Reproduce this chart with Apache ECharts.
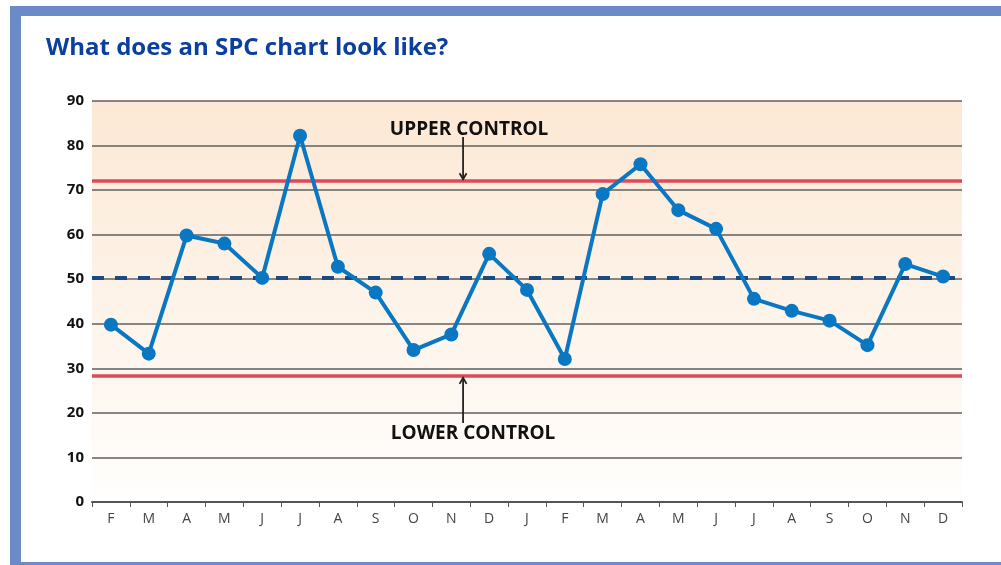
<!DOCTYPE html>
<html><head><meta charset="utf-8">
<script src="https://cdn.jsdelivr.net/npm/echarts@6/dist/echarts.min.js"></script>
<style>html,body{margin:0;padding:0;background:#fff}#c{width:1001px;height:565px}</style>
</head><body><div id="c"></div>
<script>
const titleText = 'What does an SPC chart look like?';
const months = ['F','M','A','M','J','J','A','S','O','N','D','J','F','M','A','M','J','J','A','S','O','N','D'];
const values = [39.8,33.3,59.8,58.0,50.3,82.2,52.8,47.0,34.1,37.6,55.7,47.6,32.1,69.1,75.8,65.5,61.3,45.6,42.9,40.7,35.2,53.4,50.6];
const upperControl = 72;
const lowerControl = 28.3;
const meanValue = 50.3;
const yTicks = [0,10,20,30,40,50,60,70,80,90];
const annotations = ['UPPER CONTROL','LOWER CONTROL'];

const chart = echarts.init(document.getElementById('c'), null, {renderer:'canvas'});
const FONT = '"Open Sans", "Noto Sans", sans-serif';
const option = {
  animation:false,
  backgroundColor:'#ffffff',
  title:{text:titleText,left:41,top:31,textStyle:{fontFamily:FONT,fontSize:24,fontWeight:'bold',color:'#0b3f9e'}},
  grid:{left:92,right:39,top:101,bottom:63,show:true,borderWidth:0,
    backgroundColor:{type:'linear',x:0,y:0,x2:0,y2:1,colorStops:[{offset:0,color:'#fce8d4'},{offset:1,color:'#fffefd'}]}},
  xAxis:{type:'category',data:months,boundaryGap:true,
    axisLine:{lineStyle:{color:'#555',width:2}},
    axisTick:{show:true,length:5,lineStyle:{color:'#555',width:1}},
    axisLabel:{fontFamily:FONT,fontSize:14,color:'#444',margin:10,interval:0}},
  yAxis:{type:'value',min:yTicks[0],max:yTicks[yTicks.length-1],interval:10,
    axisLine:{show:false},axisTick:{show:false},
    axisLabel:{fontFamily:FONT,fontSize:15,fontWeight:'bold',color:'#111',margin:8},
    splitLine:{show:true,lineStyle:{color:'#5f5f5f',width:1.5}}},
  series:[
    {type:'line',data:[],z:1,silent:true,
      markLine:{symbol:'none',silent:true,label:{show:false},animation:false,
        data:[
          {yAxis:upperControl,lineStyle:{color:'#e0475b',width:3.5,type:'solid'}},
          {yAxis:lowerControl,lineStyle:{color:'#e0475b',width:3.5,type:'solid'}},
          {yAxis:meanValue,lineStyle:{color:'#1b4a7e',width:4,type:[12,11]}}
        ]}},
    {type:'line',data:values,z:5,symbol:'circle',symbolSize:14,
      lineStyle:{color:'#0a77c2',width:4},itemStyle:{color:'#0a77c2'}}
  ]
};
chart.setOption(option);

// annotation arrows positioned from axis values
const p9 = chart.convertToPixel({gridIndex:0},[9,upperControl]);
const p10 = chart.convertToPixel({gridIndex:0},[10,upperControl]);
const ax = p9[0] + (p10[0]-p9[0])*0.31;
const yU = chart.convertToPixel({gridIndex:0},[0,upperControl])[1];
const yL = chart.convertToPixel({gridIndex:0},[0,lowerControl])[1];
const yUtop = chart.convertToPixel({gridIndex:0},[0,81])[1];
const yLbot = chart.convertToPixel({gridIndex:0},[0,18.4])[1];
const arrowCol = '#222';
chart.setOption({graphic:[
  {type:'text',z:10,style:{x:ax+6,y:yUtop-12,text:annotations[0],align:'center',verticalAlign:'middle',fontFamily:FONT,fontSize:19,fontWeight:'bold',fill:'#111'}},
  {type:'line',z:10,shape:{x1:ax,y1:yUtop-4,x2:ax,y2:yU-3},style:{stroke:arrowCol,lineWidth:1.8}},
  {type:'polyline',z:10,shape:{points:[[ax-3.5,yU-8],[ax,yU-2],[ax+3.5,yU-8]]},style:{stroke:arrowCol,lineWidth:1.8,fill:null}},
  {type:'text',z:10,style:{x:ax+10,y:yLbot+14,text:annotations[1],align:'center',verticalAlign:'middle',fontFamily:FONT,fontSize:19,fontWeight:'bold',fill:'#111'}},
  {type:'line',z:10,shape:{x1:ax,y1:yLbot+3,x2:ax,y2:yL+3},style:{stroke:arrowCol,lineWidth:1.8}},
  {type:'polyline',z:10,shape:{points:[[ax-3.5,yL+8],[ax,yL+2],[ax+3.5,yL+8]]},style:{stroke:arrowCol,lineWidth:1.8,fill:null}},
  {type:'rect',z:-10,silent:true,shape:{x:10,y:6,width:991,height:559},style:{fill:'#6a8bc8'}},
  {type:'rect',z:-9,silent:true,shape:{x:21,y:16,width:980,height:546},style:{fill:'#ffffff'}}
]});
</script></body></html>
